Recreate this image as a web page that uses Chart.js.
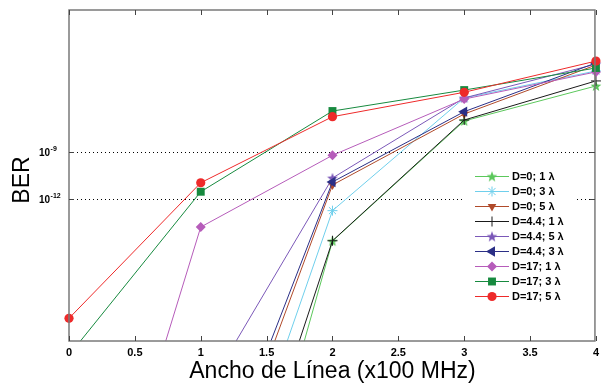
<!DOCTYPE html>
<html>
<head>
<meta charset="utf-8">
<script src="https://cdn.jsdelivr.net/npm/chart.js@4"></script>
<style>
  html, body { margin: 0; padding: 0; background: #fff; }
  #wrap { width: 604px; height: 383px; }
</style>
</head>
<body>
<div id="wrap"><canvas id="c" width="604" height="383"></canvas></div>
<script>
// Ancho de linea (x100 MHz)
var xValues = [0, 1, 2, 3, 4];

// log10(BER); null = not readable / off the plot
var d0_1   = [null, -44.3, -14.66, -7.04, -4.82];
var d0_3   = [null, -36.8, -12.73, -5.58, -3.87];
var d0_5   = [null, -33.7, -11.10, -6.60, -3.49];
var d44_1  = [null, -39.9, -14.64, -6.98, -4.50];
var d44_5  = [null, -24.8, -10.66, -5.58, -3.43];
var d44_3  = [null, -32.5, -10.91, -6.45, -3.36];
var d17_1  = [-41.0, -13.77, -9.22, -5.65, -3.93];
var d17_3  = [-21.9, -11.53, -6.41, -5.08, -3.68];
var d17_5  = [-19.56, -10.96, -6.77, -5.22, -3.24];

var seriesLabels = ['D=0; 1 λ', 'D=0; 3 λ', 'D=0; 5 λ', 'D=4.4; 1 λ', 'D=4.4; 5 λ',
                    'D=4.4; 3 λ', 'D=17; 1 λ', 'D=17; 3 λ', 'D=17; 5 λ'];
var seriesValues = [d0_1, d0_3, d0_5, d44_1, d44_5, d44_3, d17_1, d17_3, d17_5];

var xTicks = [0, 0.5, 1, 1.5, 2, 2.5, 3, 3.5, 4];
var yTicks = [-12, -9];

// filled five point star, matlab 'p' marker
function pentagram(color) {
    var cv = document.createElement('canvas');
    cv.width = 12; cv.height = 12;
    var g = cv.getContext('2d');
    g.fillStyle = color;
    g.beginPath();
    for (var i = 0; i < 10; i++) {
        var r = i % 2 ? 2.4 : 5.6;
        var a = -Math.PI / 2 + i * Math.PI / 5;
        g.lineTo(6 + r * Math.cos(a), 6.4 + r * Math.sin(a));
    }
    g.closePath();
    g.fill();
    return cv;
}

var styles = [
    { color: '#5cc85c', point: pentagram('#5cc85c'), radius: 6, rot: 0, bw: 0 },
    { color: '#6fcfec', point: 'star', radius: 5, rot: 0, bw: 1 },
    { color: '#b04a2a', point: 'triangle', radius: 5, rot: 180, bw: 0 },
    { color: '#1a1a1a', point: 'cross', radius: 5, rot: 0, bw: 1 },
    { color: '#7b58b8', point: pentagram('#7b58b8'), radius: 6, rot: 0, bw: 0 },
    { color: '#2b2f86', point: 'triangle', radius: 6, rot: -90, bw: 0 },
    { color: '#b65cba', point: 'rectRot', radius: 5, rot: 0, bw: 0 },
    { color: '#178a3f', point: 'rect', radius: 5.6, rot: 0, bw: 0 },
    { color: '#ee2a2a', point: 'circle', radius: 4.6, rot: 0, bw: 0 }
];

var datasets = seriesValues.map(function (vals, i) {
    var pts = [];
    vals.forEach(function (v, k) { if (v !== null) pts.push({ x: xValues[k], y: v }); });
    var s = styles[i];
    return {
        label: seriesLabels[i],
        data: pts,
        borderColor: s.color,
        backgroundColor: s.color,
        borderWidth: 1,
        pointStyle: s.point,
        pointRadius: s.radius,
        pointRotation: s.rot,
        pointBorderWidth: s.bw,
        pointBorderColor: s.color,
        pointBackgroundColor: s.color,
        tension: 0,
        order: 9 - i,
        clip: { left: 6, right: 6, top: 6, bottom: 0 }
    };
});

var FONT = "'Liberation Sans', Arial, sans-serif";

var decorations = {
    id: 'decorations',
    beforeDatasetsDraw: function (chart) {
        var ctx = chart.ctx, a = chart.chartArea, ys = chart.scales.y;
        ctx.save();
        ctx.strokeStyle = '#000';
        ctx.lineWidth = 1;
        ctx.setLineDash([1, 3]);
        yTicks.forEach(function (v) {
            var y = Math.round(ys.getPixelForValue(v)) + 0.5;
            ctx.beginPath(); ctx.moveTo(a.left, y); ctx.lineTo(a.right, y); ctx.stroke();
        });
        ctx.restore();
    },
    afterDatasetsDraw: function (chart) {
        var ctx = chart.ctx, a = chart.chartArea, xs = chart.scales.x, ys = chart.scales.y;
        ctx.save();

        // frame
        ctx.strokeStyle = '#7a7a7a';
        ctx.lineWidth = 1.5;
        ctx.strokeRect(a.left, a.top, a.right - a.left - 1, a.bottom - a.top);

        // inward ticks
        ctx.lineWidth = 1;
        ctx.strokeStyle = '#444';
        xTicks.forEach(function (v) {
            var x = Math.round(xs.getPixelForValue(v)) + 0.5;
            ctx.beginPath();
            ctx.moveTo(x, a.bottom); ctx.lineTo(x, a.bottom - 5);
            ctx.moveTo(x, a.top); ctx.lineTo(x, a.top + 5);
            ctx.stroke();
        });
        yTicks.forEach(function (v) {
            var y = Math.round(ys.getPixelForValue(v)) + 0.5;
            ctx.beginPath();
            ctx.moveTo(a.left, y); ctx.lineTo(a.left + 5, y);
            ctx.moveTo(a.right - 1, y); ctx.lineTo(a.right - 6, y);
            ctx.stroke();
        });

        // y tick labels 10^n
        ctx.fillStyle = '#000';
        ctx.textBaseline = 'alphabetic';
        ctx.textAlign = 'left';
        yTicks.forEach(function (v) {
            var y = ys.getPixelForValue(v);
            ctx.font = 'bold 10px ' + FONT;
            ctx.fillText('10', 39, y + 4);
            var w = ctx.measureText('10').width;
            ctx.font = 'bold 7px ' + FONT;
            ctx.fillText('-' + Math.abs(v), 39 + w + 0.5, y - 1);
        });

        // axis titles
        ctx.font = '23px ' + FONT;
        ctx.textAlign = 'center';
        ctx.fillText('Ancho de Línea (x100 MHz)', (a.left + a.right) / 2, 378);
        ctx.save();
        ctx.translate(29, 180);
        ctx.rotate(-Math.PI / 2);
        ctx.fillText('BER', 0, 0);
        ctx.restore();

        // legend
        ctx.fillStyle = '#fff';
        ctx.fillRect(465, 166, 112, 140);
        ctx.font = 'bold 11px ' + FONT;
        ctx.textAlign = 'left';
        ctx.textBaseline = 'middle';
        chart.data.datasets.forEach(function (ds, i) {
            var y = 176 + i * 15;
            ctx.strokeStyle = ds.borderColor;
            ctx.fillStyle = ds.borderColor;
            ctx.lineWidth = 1;
            ctx.beginPath(); ctx.moveTo(475, y + 0.5); ctx.lineTo(509, y + 0.5); ctx.stroke();
            if (Chart.helpers && Chart.helpers.drawPoint) {
                Chart.helpers.drawPoint(ctx, {
                    pointStyle: ds.pointStyle, rotation: ds.pointRotation,
                    radius: ds.pointRadius, borderWidth: ds.pointBorderWidth
                }, 492, y + 0.5);
            }
            ctx.fillStyle = '#000';
            ctx.fillText(ds.label, 512, y + 1);
        });
        ctx.restore();
    }
};

new Chart(document.getElementById('c'), {
    type: 'line',
    data: { datasets: datasets },
    options: {
        responsive: false,
        animation: false,
        layout: { padding: { top: 10, right: 1, left: 0, bottom: 0 } },
        plugins: { legend: { display: false }, tooltip: { enabled: false } },
        scales: {
            x: {
                type: 'linear', min: 0, max: 4,
                afterBuildTicks: function (s) { s.ticks = xTicks.map(function (v) { return { value: v }; }); },
                afterFit: function (s) { s.height = 42; },
                grid: { display: false, drawTicks: false, tickLength: 0 },
                border: { display: false },
                ticks: {
                    padding: 5, color: '#000', maxRotation: 0, autoSkip: false,
                    font: { family: FONT, size: 11, weight: 'bold' },
                    callback: function (v) { return String(v); }
                }
            },
            y: {
                type: 'linear', min: -21, max: 0,
                afterBuildTicks: function (s) { s.ticks = yTicks.map(function (v) { return { value: v }; }); },
                afterFit: function (s) { s.width = 69; },
                grid: { display: false, drawTicks: false },
                border: { display: false },
                ticks: { display: false }
            }
        }
    },
    plugins: [decorations]
});
</script>
</body>
</html>
